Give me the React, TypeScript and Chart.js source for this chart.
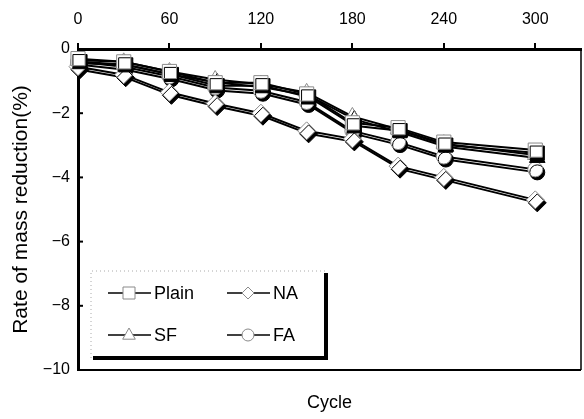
import React, { useEffect, useRef } from 'react';
import { Chart, registerables } from 'chart.js';

Chart.register(...registerables);

const cycles = [0, 30, 60, 90, 120, 150, 180, 210, 240, 300];
const plainValues = [-0.3, -0.4, -0.7, -1.05, -1.05, -1.4, -2.3, -2.45, -2.9, -3.15];
const naValues = [-0.55, -0.8, -1.35, -1.7, -2.0, -2.55, -2.8, -3.65, -4.0, -4.7];
const sfValues = [-0.35, -0.4, -0.7, -0.95, -1.1, -1.35, -2.1, -2.5, -2.95, -3.3];
const faValues = [-0.4, -0.55, -0.85, -1.2, -1.3, -1.65, -2.55, -2.9, -3.35, -3.75];
const seriesNames = ['Plain', 'NA', 'SF', 'FA'];
const xTicks = [0, 60, 120, 180, 240, 300];
const yTicks = [0, -2, -4, -6, -8, -10];
const xTitle = 'Cycle';
const yTitle = 'Rate of mass reduction(%)';

const FONT = "'Liberation Sans', Arial, sans-serif";

function drawMarker(ctx: CanvasRenderingContext2D, style: string, x: number, y: number, r: number) {
  ctx.beginPath();
  if (style === 'rect') {
    ctx.rect(x - r, y - r, 2 * r, 2 * r);
  } else if (style === 'rectRot') {
    ctx.moveTo(x, y - r);
    ctx.lineTo(x + r, y);
    ctx.lineTo(x, y + r);
    ctx.lineTo(x - r, y);
    ctx.closePath();
  } else if (style === 'triangle') {
    ctx.moveTo(x, y - r);
    ctx.lineTo(x + r * 0.9, y + r * 0.6);
    ctx.lineTo(x - r * 0.9, y + r * 0.6);
    ctx.closePath();
  } else {
    ctx.arc(x, y, r, 0, Math.PI * 2);
  }
  ctx.fillStyle = '#fff';
  ctx.fill();
  ctx.strokeStyle = '#8a8a8a';
  ctx.lineWidth = 1;
  ctx.stroke();
}

const shadowPlugin = {
  id: 'shadowPlugin',
  beforeDatasetsDraw(chart: any) {
    const ctx = chart.ctx;
    ctx.save();
    ctx.shadowColor = '#000';
    ctx.shadowOffsetX = 2;
    ctx.shadowOffsetY = 3;
    ctx.shadowBlur = 0;
  },
  afterDatasetsDraw(chart: any) {
    chart.ctx.restore();
  },
};

const decorPlugin = {
  id: 'decorPlugin',
  afterDraw(chart: any) {
    const ctx = chart.ctx as CanvasRenderingContext2D;
    const { left, right, top, bottom } = chart.chartArea;
    const yScale = chart.scales.y;
    ctx.save();
    // inward y ticks
    ctx.strokeStyle = '#000';
    ctx.lineWidth = 2;
    yTicks.forEach((v) => {
      if (v === 0 || v === -10) return;
      const py = yScale.getPixelForValue(v);
      ctx.beginPath();
      ctx.moveTo(left, py);
      ctx.lineTo(left + 5, py);
      ctx.stroke();
    });
    // right & bottom frame
    ctx.lineWidth = 1.5;
    ctx.beginPath();
    ctx.moveTo(right, top);
    ctx.lineTo(right, bottom);
    ctx.stroke();
    ctx.lineWidth = 2;
    ctx.beginPath();
    ctx.moveTo(left, bottom);
    ctx.lineTo(right, bottom);
    ctx.stroke();

    // x title
    ctx.fillStyle = '#000';
    ctx.font = `18px ${FONT}`;
    ctx.textAlign = 'center';
    ctx.textBaseline = 'middle';
    ctx.fillText(xTitle, (left + right) / 2, 403);

    // legend box
    const bx0 = 91, by0 = 271, bx1 = 326, by1 = 358;
    ctx.fillStyle = '#fff';
    ctx.fillRect(bx0, by0, bx1 - bx0, by1 - by0);
    ctx.setLineDash([1, 3]);
    ctx.strokeStyle = '#aaa';
    ctx.lineWidth = 1;
    ctx.beginPath();
    ctx.moveTo(bx0, by1);
    ctx.lineTo(bx0, by0);
    ctx.lineTo(bx1, by0);
    ctx.stroke();
    ctx.setLineDash([]);
    ctx.strokeStyle = '#000';
    ctx.lineWidth = 4;
    ctx.beginPath();
    ctx.moveTo(bx0 + 2, by1);
    ctx.lineTo(bx1, by1);
    ctx.lineTo(bx1, by0 + 2);
    ctx.stroke();

    const items = [
      { name: seriesNames[0], style: 'rect', x: 108, y: 293, r: 6 },
      { name: seriesNames[1], style: 'rectRot', x: 227, y: 293, r: 6 },
      { name: seriesNames[2], style: 'triangle', x: 108, y: 335, r: 7 },
      { name: seriesNames[3], style: 'circle', x: 227, y: 335, r: 6 },
    ];
    items.forEach((it) => {
      ctx.strokeStyle = '#000';
      ctx.lineWidth = 1.5;
      ctx.beginPath();
      ctx.moveTo(it.x, it.y);
      ctx.lineTo(it.x + 43, it.y);
      ctx.stroke();
      drawMarker(ctx, it.style, it.x + 21, it.y, it.r);
      ctx.fillStyle = '#000';
      ctx.font = `18px ${FONT}`;
      ctx.textAlign = 'left';
      ctx.textBaseline = 'middle';
      ctx.fillText(it.name, it.x + 46, it.y + 1);
    });
    ctx.restore();
  },
};

export default function App() {
  const ref = useRef<HTMLCanvasElement | null>(null);
  useEffect(() => {
    if (!ref.current) return;
    const mk = (label: string, data: number[], style: string, r: number) => ({
      label,
      data: cycles.map((c, i) => ({ x: c, y: data[i] })),
      borderColor: '#000',
      borderWidth: 2,
      pointStyle: style,
      pointRadius: r,
      pointBackgroundColor: '#fff',
      pointBorderColor: '#8a8a8a',
      pointBorderWidth: 1,
      clip: false as any,
      tension: 0,
    });
    const chart = new Chart(ref.current, {
      type: 'line',
      data: {
        datasets: [
          mk(seriesNames[0], plainValues, 'rect', 10),
          mk(seriesNames[1], naValues, 'rectRot', 9),
          mk(seriesNames[2], sfValues, 'triangle', 9),
          mk(seriesNames[3], faValues, 'circle', 7.5),
        ],
      },
      options: {
        responsive: false,
        animation: false,
        layout: { autoPadding: false, padding: { left: 0, right: 3, top: 0, bottom: 49 } },
        plugins: { legend: { display: false }, tooltip: { enabled: false } },
        scales: {
          x: {
            type: 'linear',
            position: 'top',
            min: 0,
            max: 330,
            afterBuildTicks: (s: any) => { s.ticks = xTicks.map((v) => ({ value: v })); },
            afterFit: (s: any) => { s.height = 49; },
            grid: { drawOnChartArea: false, drawTicks: true, tickLength: 6, color: '#000', lineWidth: 2 },
            border: { display: true, color: '#000', width: 3 },
            ticks: { color: '#000', font: { family: FONT, size: 16 }, padding: 14, maxRotation: 0 },
          },
          y: {
            type: 'linear',
            min: -10,
            max: 0,
            afterBuildTicks: (s: any) => { s.ticks = yTicks.map((v) => ({ value: v })); },
            afterFit: (s: any) => { s.width = 78; },
            grid: { drawOnChartArea: false, drawTicks: false },
            border: { display: true, color: '#000', width: 3 },
            ticks: {
              color: '#000',
              font: { family: FONT, size: 16 },
              padding: 8,
              callback: (v: any) => String(v).replace('-', '\u2212'),
            },
            title: { display: true, text: yTitle, color: '#000', font: { family: FONT, size: 21 }, padding: { top: 9, bottom: 0 } },
          },
        },
      },
      plugins: [shadowPlugin, decorPlugin],
    });
    return () => chart.destroy();
  }, []);
  return (
    <div style={{ position: 'fixed', left: 0, top: 0, width: 584, height: 419, background: '#fff' }}>
      <canvas ref={ref} width={584} height={419} style={{ display: 'block' }} />
    </div>
  );
}
